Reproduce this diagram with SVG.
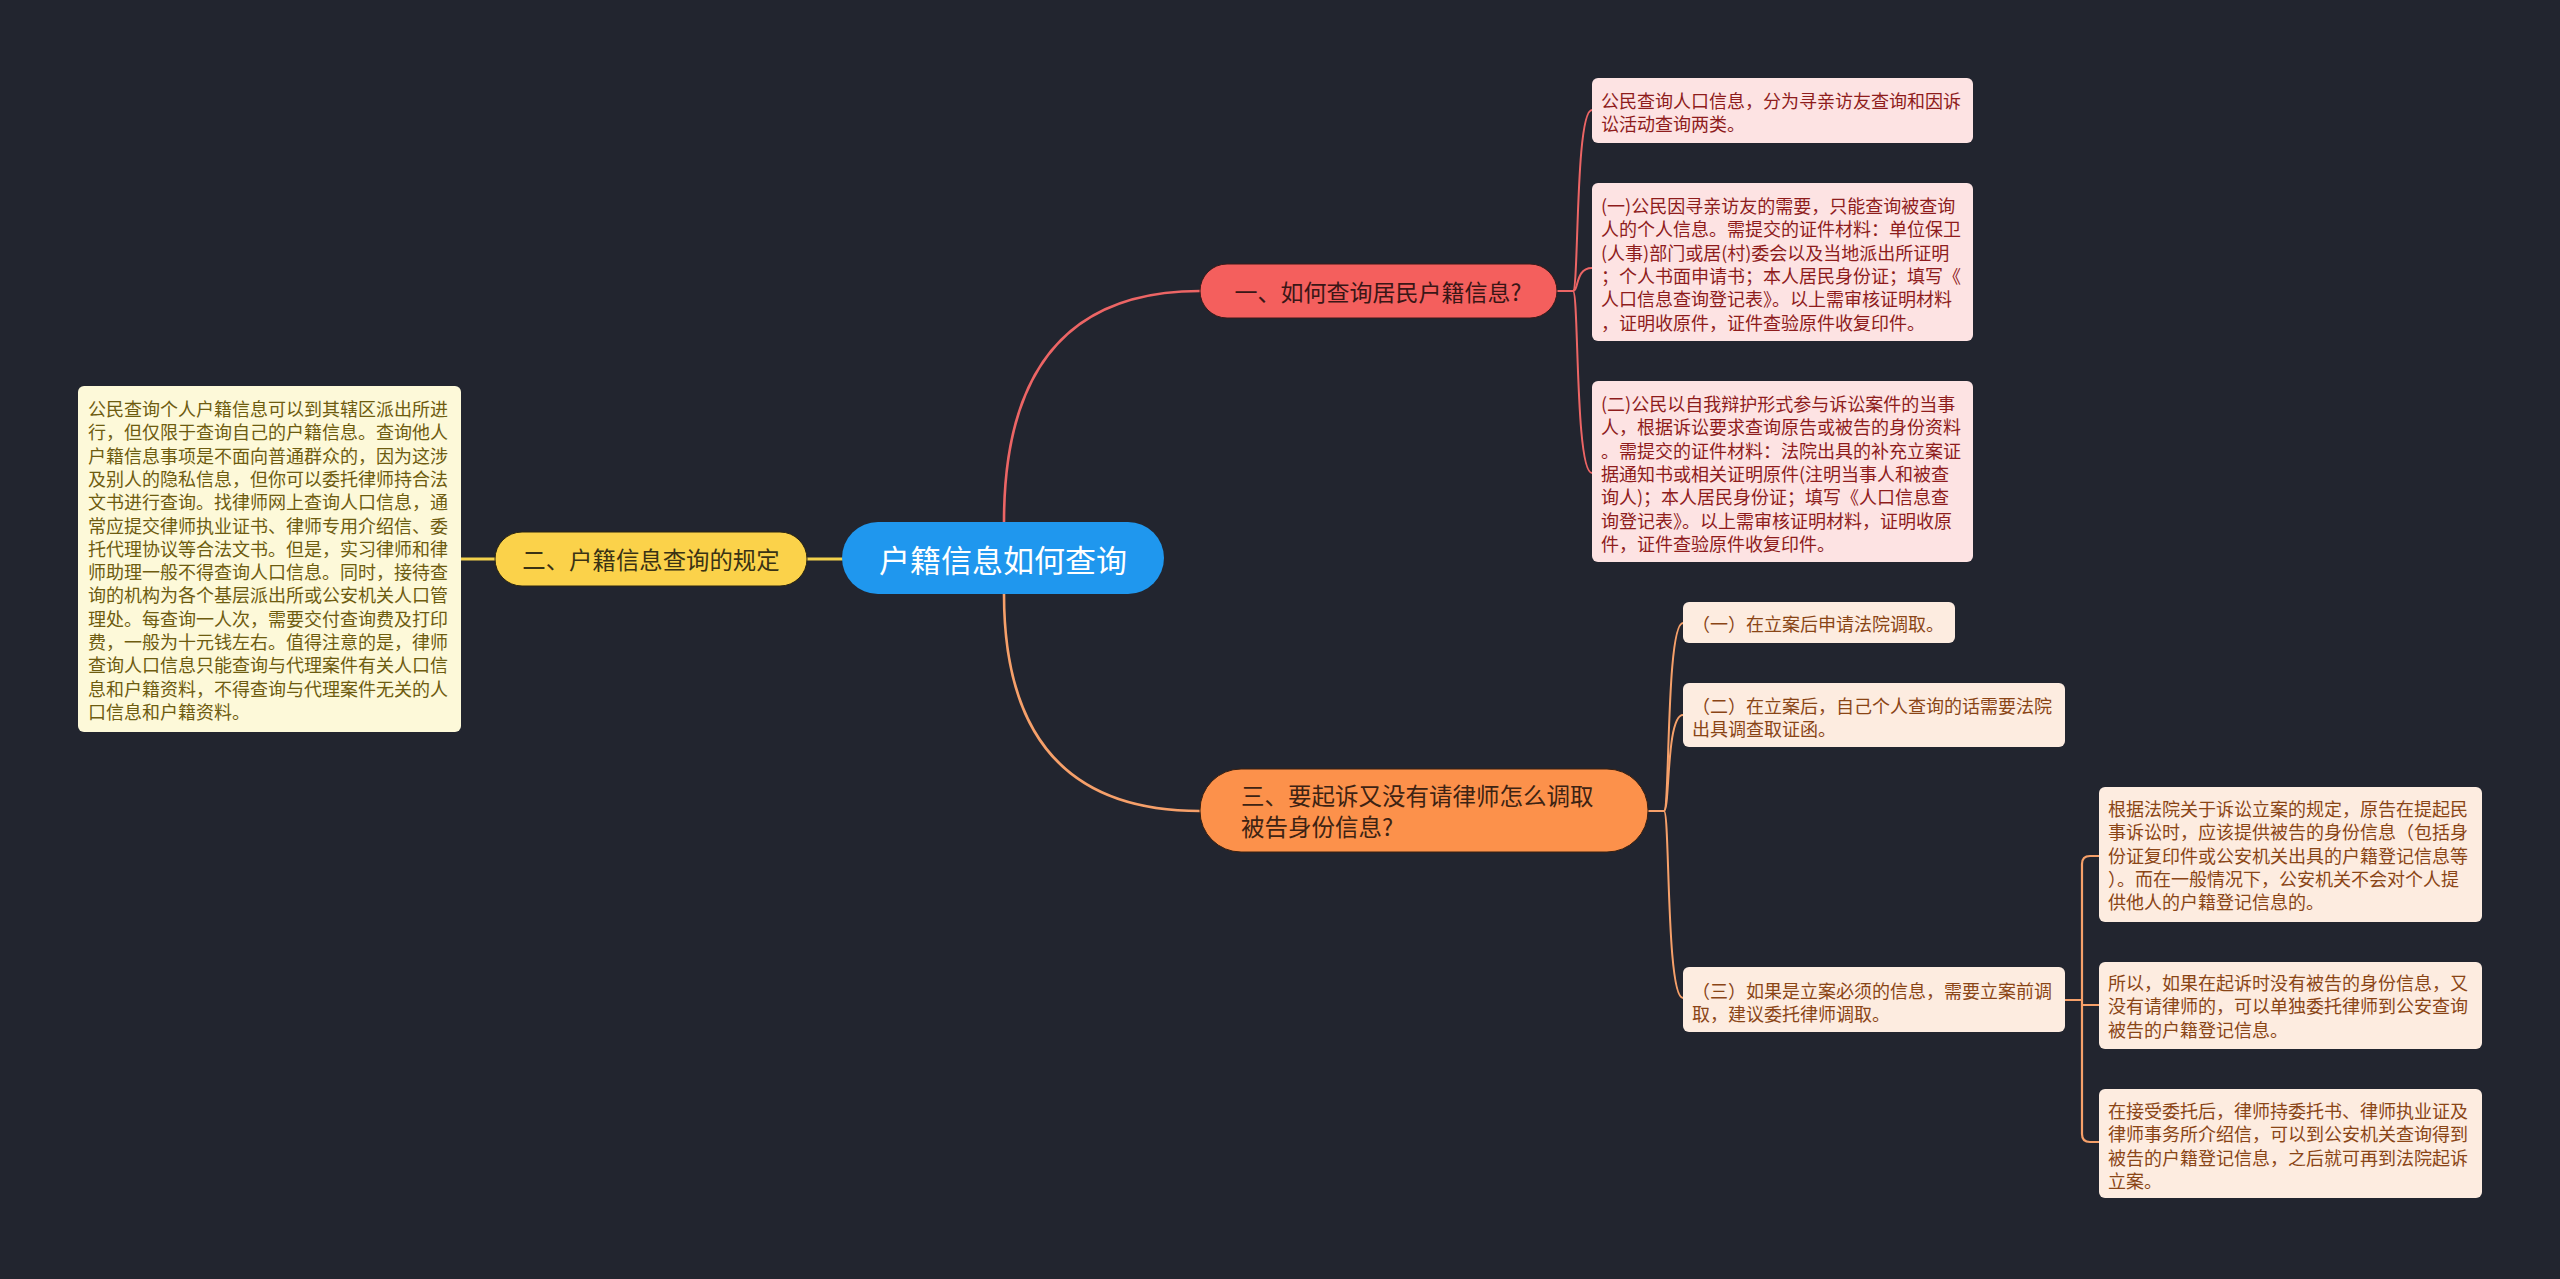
<svg xmlns="http://www.w3.org/2000/svg" width="2560" height="1279" viewBox="0 0 2560 1279">
<style>
text{font-family:"Noto Sans CJK SC","Noto Sans",sans-serif;dominant-baseline:central}
.conn path{fill:none;stroke-linecap:round;stroke-linejoin:round}
.red{stroke:#ec6565}
.org{stroke:#f6a06a}
.yel{stroke:#f3d24c}
.bRed{fill:#fde3e3}
.bOrg{fill:#fdece0}
.bYel{fill:#fdf9d9}
.tRed{fill:#8e1c1c;font-size:18px}
.tOrg{fill:#8a4516;font-size:18px}
.tYel{fill:#6e5c10;font-size:18px}
</style>
<rect x="0" y="0" width="2560" height="1279" fill="#22252f"/>
<g class="conn" id="connectors">
<path class="red" stroke-width="2.6" d="M1004,522 Q1004,291 1200,291"/>
<path class="org" stroke-width="2.6" d="M1004,594 Q1004,811 1200,811"/>
<path class="yel" stroke-width="3" d="M842,559 H807"/>
<path class="yel" stroke-width="3" d="M495,559 H461"/>
<path class="red" stroke-width="2.2" d="M1557,291 H1573"/>
<path class="red" stroke-width="2" d="M1573,291 C1579,291 1575,110 1592,110"/>
<path class="red" stroke-width="2" d="M1573,291 C1579,291 1575,268 1592,268"/>
<path class="red" stroke-width="2" d="M1573,291 C1579,291 1575,473 1592,473"/>
<path class="org" stroke-width="2.2" d="M1648,811 H1664"/>
<path class="org" stroke-width="2" d="M1664,811 C1670,811 1666,623 1683,623"/>
<path class="org" stroke-width="2" d="M1664,811 C1670,811 1666,715 1683,715"/>
<path class="org" stroke-width="2" d="M1664,811 C1670,811 1666,998 1683,998"/>
<path class="org" stroke-width="2.2" d="M2065,1000 H2082"/>
<path class="org" stroke-width="2.2" d="M2099,856 H2090 Q2082,856 2082,864 V1134 Q2082,1142 2090,1142 H2099"/>
<path class="org" stroke-width="2.2" d="M2082,1005 H2099"/>
</g>
<g id="root">
<rect x="842" y="522" width="322" height="72" rx="36" fill="#1f97ee"/>
<text x="1003" y="558" text-anchor="middle" fill="#ffffff" font-size="31">户籍信息如何查询</text>
</g>
<g id="n1">
<rect x="1200" y="264" width="357" height="54" rx="27" fill="#f45f5d" stroke="#3a1a1a" stroke-width="1"/>
<text x="1378" y="291" text-anchor="middle" fill="#3a1616" font-size="23">一、如何查询居民户籍信息?</text>
</g>
<g id="n2">
<rect x="495" y="532" width="312" height="54" rx="27" fill="#fbd24a" stroke="#2a2510" stroke-width="1"/>
<text x="651" y="559" text-anchor="middle" fill="#3a3214" font-size="23.4">二、户籍信息查询的规定</text>
</g>
<g id="n3">
<rect x="1200" y="769" width="448" height="83" rx="41" fill="#fc914b" stroke="#3a2010" stroke-width="1"/>
<text fill="#3d2313" font-size="23.5"><tspan x="1241" y="795">三、要起诉又没有请律师怎么调取</tspan><tspan x="1241" y="826">被告身份信息?</tspan></text>
</g>
<g id="n2a">
<rect class="bYel" x="78" y="386" width="383" height="346" rx="6"/>
<text class="tYel">
<tspan x="88" y="408">公民查询个人户籍信息可以到其辖区派出所进</tspan>
<tspan x="88" y="431.3">行，但仅限于查询自己的户籍信息。查询他人</tspan>
<tspan x="88" y="454.6">户籍信息事项是不面向普通群众的，因为这涉</tspan>
<tspan x="88" y="477.9">及别人的隐私信息，但你可以委托律师持合法</tspan>
<tspan x="88" y="501.2">文书进行查询。找律师网上查询人口信息，通</tspan>
<tspan x="88" y="524.5">常应提交律师执业证书、律师专用介绍信、委</tspan>
<tspan x="88" y="547.8">托代理协议等合法文书。但是，实习律师和律</tspan>
<tspan x="88" y="571.1">师助理一般不得查询人口信息。同时，接待查</tspan>
<tspan x="88" y="594.4">询的机构为各个基层派出所或公安机关人口管</tspan>
<tspan x="88" y="617.7">理处。每查询一人次，需要交付查询费及打印</tspan>
<tspan x="88" y="641">费，一般为十元钱左右。值得注意的是，律师</tspan>
<tspan x="88" y="664.3">查询人口信息只能查询与代理案件有关人口信</tspan>
<tspan x="88" y="687.6">息和户籍资料，不得查询与代理案件无关的人</tspan>
<tspan x="88" y="710.9">口信息和户籍资料。</tspan>
</text>
</g>
<g id="n1a">
<rect class="bRed" x="1592" y="78" width="381" height="65" rx="6"/>
<text class="tRed"><tspan x="1601" y="100">公民查询人口信息，分为寻亲访友查询和因诉</tspan><tspan x="1601" y="123">讼活动查询两类。</tspan></text>
</g>
<g id="n1b">
<rect class="bRed" x="1592" y="183" width="381" height="158" rx="6"/>
<text class="tRed">
<tspan x="1601" y="205">(一)公民因寻亲访友的需要，只能查询被查询</tspan>
<tspan x="1601" y="228.3">人的个人信息。需提交的证件材料：单位保卫</tspan>
<tspan x="1601" y="251.6">(人事)部门或居(村)委会以及当地派出所证明</tspan>
<tspan x="1601" y="274.9">；个人书面申请书；本人居民身份证；填写《</tspan>
<tspan x="1601" y="298.2">人口信息查询登记表》。以上需审核证明材料</tspan>
<tspan x="1601" y="321.5">，证明收原件，证件查验原件收复印件。</tspan>
</text>
</g>
<g id="n1c">
<rect class="bRed" x="1592" y="381" width="381" height="181" rx="6"/>
<text class="tRed">
<tspan x="1601" y="403">(二)公民以自我辩护形式参与诉讼案件的当事</tspan>
<tspan x="1601" y="426.3">人，根据诉讼要求查询原告或被告的身份资料</tspan>
<tspan x="1601" y="449.6">。需提交的证件材料：法院出具的补充立案证</tspan>
<tspan x="1601" y="472.9">据通知书或相关证明原件(注明当事人和被查</tspan>
<tspan x="1601" y="496.2">询人)；本人居民身份证；填写《人口信息查</tspan>
<tspan x="1601" y="519.5">询登记表》。以上需审核证明材料，证明收原</tspan>
<tspan x="1601" y="542.8">件，证件查验原件收复印件。</tspan>
</text>
</g>
<g id="n3a">
<rect class="bOrg" x="1683" y="602" width="272" height="41" rx="6"/>
<text class="tOrg"><tspan x="1692" y="623">（一）在立案后申请法院调取。</tspan></text>
</g>
<g id="n3b">
<rect class="bOrg" x="1683" y="683" width="382" height="64" rx="6"/>
<text class="tOrg"><tspan x="1692" y="705">（二）在立案后，自己个人查询的话需要法院</tspan><tspan x="1692" y="728">出具调查取证函。</tspan></text>
</g>
<g id="n3c">
<rect class="bOrg" x="1683" y="967" width="382" height="65" rx="6"/>
<text class="tOrg"><tspan x="1692" y="990">（三）如果是立案必须的信息，需要立案前调</tspan><tspan x="1692" y="1013">取，建议委托律师调取。</tspan></text>
</g>
<g id="n3c1">
<rect class="bOrg" x="2099" y="787" width="383" height="135" rx="6"/>
<text class="tOrg">
<tspan x="2108" y="808">根据法院关于诉讼立案的规定，原告在提起民</tspan>
<tspan x="2108" y="831.3">事诉讼时，应该提供被告的身份信息（包括身</tspan>
<tspan x="2108" y="854.6">份证复印件或公安机关出具的户籍登记信息等</tspan>
<tspan x="2108" y="877.9">）。而在一般情况下，公安机关不会对个人提</tspan>
<tspan x="2108" y="901.2">供他人的户籍登记信息的。</tspan>
</text>
</g>
<g id="n3c2">
<rect class="bOrg" x="2099" y="962" width="383" height="87" rx="6"/>
<text class="tOrg">
<tspan x="2108" y="982">所以，如果在起诉时没有被告的身份信息，又</tspan>
<tspan x="2108" y="1005.3">没有请律师的，可以单独委托律师到公安查询</tspan>
<tspan x="2108" y="1028.6">被告的户籍登记信息。</tspan>
</text>
</g>
<g id="n3c3">
<rect class="bOrg" x="2099" y="1089" width="383" height="109" rx="6"/>
<text class="tOrg">
<tspan x="2108" y="1110">在接受委托后，律师持委托书、律师执业证及</tspan>
<tspan x="2108" y="1133.3">律师事务所介绍信，可以到公安机关查询得到</tspan>
<tspan x="2108" y="1156.6">被告的户籍登记信息，之后就可再到法院起诉</tspan>
<tspan x="2108" y="1179.9">立案。</tspan>
</text>
</g>
</svg>
